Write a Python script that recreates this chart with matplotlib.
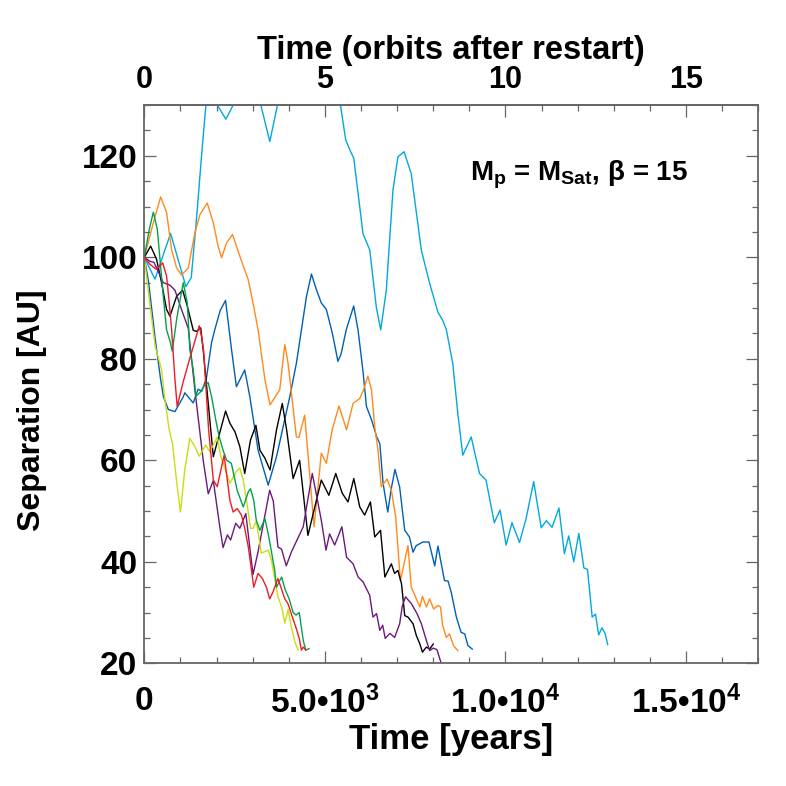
from matplotlib import pyplot as plt
from matplotlib.ticker import MultipleLocator

# time in years, separation in AU
cyan_t = [0, 295, 728, 1152, 1300, 1450, 1585, 1705, 1860, 2020, 2258, 2460, 2850, 3226, 3475, 3687,
          4500, 5430, 5577, 5700, 5800, 6056, 6240, 6425, 6545, 6700, 6885, 7023, 7190, 7390, 7667,
          7898, 8128, 8267, 8360, 8540, 8680, 8818, 9050, 9280, 9460, 9690, 9850, 10017, 10180, 10387,
          10570, 10780, 10990, 11130, 11290, 11480, 11630, 11750, 11890, 12030, 12170, 12270, 12400,
          12490, 12580, 12670, 12760, 12830]
cyan_r = [100, 95.7, 104.7, 94.2, 96.0, 108.0, 120.0, 130.0, 133.0, 130.0, 127.2, 130.0, 134.0, 130.0,
          122.8, 130.0, 140.0, 130.0, 123.1, 121.0, 119.5, 104.6, 101.5, 90.1, 85.7, 93.5, 113.3, 119.8,
          120.8, 116.5, 101.5, 94.9, 89.2, 87.5, 85.8, 79.1, 69.2, 61.0, 64.6, 57.4, 56.1, 47.7, 50.2,
          43.3, 47.7, 43.8, 48.5, 55.8, 46.7, 48.1, 46.8, 50.6, 41.6, 45.1, 40.0, 45.6, 38.8, 38.5, 29.1,
          29.7, 25.6, 27.0, 25.8, 23.7]

blue_t = [0, 120, 300, 450, 530, 665, 848, 1078, 1120, 1355, 1490, 1590, 1720, 1860, 1950, 2100, 2249,
          2415, 2550, 2780, 2920, 3150, 3430, 3660, 4030, 4210, 4350, 4490, 4627, 4765, 4900, 5040, 5180,
          5250, 5360, 5450, 5590, 5797, 5917, 6060, 6150, 6290, 6430, 6520, 6610, 6740, 6840, 6940, 7070,
          7210, 7340, 7440, 7530, 7715, 7880, 8040, 8130, 8310, 8410, 8500, 8640, 8770, 8870, 8960, 9080]
blue_r = [100, 95, 84, 76, 72.5, 70.0, 69.6, 72.5, 73.3, 71.3, 74.0, 73.6, 76.2, 83.1, 85.7, 89.5, 91.5,
          81.8, 74.5, 77.8, 72.6, 62.0, 55.1, 60.7, 72.6, 79.1, 85.7, 92.3, 96.7, 93.6, 91.0, 89.7, 85.8,
          83.5, 79.5, 81.0, 85.7, 90.4, 85.7, 77.2, 70.6, 68.0, 64.7, 63.3, 55.5, 49.8, 54.5, 58.2, 54.7,
          46.2, 44.9, 41.9, 43.2, 43.9, 43.9, 39.2, 43.1, 36.3, 36.2, 33.9, 29.1, 26.1, 25.8, 23.5, 22.8]

orange_t = [0, 250, 452, 617, 756, 894, 1030, 1217, 1400, 1540, 1742, 1910, 2046, 2140, 2276, 2440, 2645,
            2876, 3010, 3150, 3340, 3480, 3750, 3890, 3980, 4210, 4280, 4440, 4700, 4900, 5040, 5200,
            5390, 5600, 5780, 5965, 6070, 6190, 6290, 6380, 6470, 6560, 6720, 6840, 6960, 7090, 7300,
            7390, 7530, 7630, 7700, 7810, 7900, 8010, 8130, 8200, 8260, 8360, 8450, 8560, 8680]
orange_r = [100, 106.8, 111.9, 108.8, 101.5, 97.9, 96.5, 97.9, 104.8, 108.4, 110.7, 106.8, 102.1, 99.9,
            102.8, 104.5, 100.2, 95.6, 91.0, 85.7, 75.9, 70.9, 73.9, 82.8, 79.1, 64.6, 64.5, 68.9, 46.9,
            61.4, 59.4, 66.0, 70.7, 66.0, 71.2, 72.2, 73.9, 76.6, 73.9, 66.6, 62.0, 54.8, 56.3, 54.1,
            48.8, 36.3, 43.2, 35.0, 32.7, 31.1, 33.2, 31.1, 32.7, 30.7, 31.4, 31.1, 27.5, 25.1, 25.8,
            23.5, 22.5]

black_t = [0, 175, 340, 480, 617, 710, 894, 1060, 1190, 1355, 1447, 1560, 1630, 1910, 2250, 2370, 2510,
           2645, 2780, 2940, 3090, 3200, 3340, 3480, 3660, 3820, 3940, 4120, 4300, 4530, 4900, 5110,
           5300, 5480, 5640, 5800, 5965, 6100, 6260, 6380, 6540, 6660, 6840, 6930, 7020, 7120, 7210,
           7300, 7440, 7530, 7630, 7700, 7810, 7900, 8000]
black_r = [100, 102.2, 99.6, 94.9, 89.7, 88.4, 92.3, 93.5, 90.4, 85.6, 85.4, 86.1, 81.8, 60.7, 69.7,
           67.3, 65.6, 62.7, 57.4, 64.0, 66.9, 62.0, 60.4, 58.1, 66.0, 71.2, 66.0, 56.4, 60.0, 45.2,
           56.1, 53.1, 57.4, 53.5, 51.8, 56.4, 50.8, 49.2, 51.8, 44.9, 46.2, 37.0, 39.6, 37.7, 38.3,
           35.7, 29.4, 29.1, 27.8, 25.5, 23.8, 22.2, 23.2, 22.8, 23.8]

purple_t = [0, 157, 267, 387, 525, 710, 850, 1030, 1217, 1400, 1630, 1770, 1910, 2090, 2180, 2300, 2390,
            2530, 2645, 2810, 3010, 3150, 3470, 3570, 3700, 3800, 3930, 4070, 4400, 4530, 4650, 4760,
            4900, 5030, 5130, 5270, 5470, 5600, 5780, 5920, 6060, 6240, 6330, 6430, 6520, 6600, 6670,
            6800, 6930, 7070, 7140, 7230, 7390, 7550, 7670, 7810, 7900, 8000, 8100, 8220]
purple_r = [100, 99.2, 99.0, 97.2, 95.0, 94.5, 93.5, 89.7, 86.0, 73.9, 60.0, 53.4, 56.0, 46.9, 42.8,
            45.3, 44.3, 47.6, 46.6, 49.5, 37.5, 42.0, 54.1, 52.0, 42.9, 42.5, 39.2, 41.9, 46.9, 52.4,
            57.4, 53.4, 48.2, 42.3, 45.5, 43.3, 46.9, 40.9, 39.6, 37.0, 36.0, 33.4, 29.1, 29.8, 26.5,
            27.5, 24.9, 25.9, 25.1, 27.8, 31.2, 33.1, 31.8, 29.8, 27.8, 24.5, 22.5, 23.0, 22.7, 20.0]

red_t = [0, 157, 340, 507, 617, 690, 756, 850, 910, 1078, 1220, 1450, 1520, 1585, 1640, 1780, 1910, 2020,
         2120, 2210, 2300, 2370, 2460, 2570, 2690, 2780, 2880, 3030, 3150, 3270, 3380, 3470, 3560, 3700,
         3890, 3980, 4100, 4210, 4290, 4350, 4400, 4470]
red_r = [100, 98.6, 97.6, 98.9, 96.3, 91.0, 85.7, 75.8, 70.6, 75.5, 79.1, 84.7, 86.5, 84.4, 81.8, 66.0,
         56.1, 54.8, 58.1, 61.0, 56.0, 52.1, 49.8, 50.5, 49.2, 46.6, 42.9, 35.0, 37.7, 36.7, 35.0, 32.7,
         34.0, 36.7, 32.7, 31.7, 29.1, 26.8, 24.9, 22.6, 23.2, 22.6]

green_t = [0, 138, 250, 360, 525, 617, 710, 774, 900, 1078, 1190, 1260, 1355, 1430, 1560, 1680, 1770,
           1860, 1980, 2070, 2180, 2280, 2410, 2570, 2740, 2880, 2940, 3030, 3100, 3200, 3340, 3430,
           3520, 3610, 3660, 3800, 3900, 4010, 4120, 4200, 4290, 4400, 4470, 4560]
green_r = [100, 105.5, 108.9, 105.5, 92.3, 85.7, 83.5, 81.5, 88, 95.0, 91.0, 81.8, 77.8, 72.6, 73.5,
           74.9, 75.3, 72.6, 67.9, 64.7, 62.0, 60.0, 59.4, 54.1, 50.8, 53.8, 54.4, 52.1, 48.2, 46.2,
           48.5, 45.5, 42, 38.3, 35.0, 37.0, 34.5, 32.7, 30.0, 29.5, 30.0, 24.5, 22.6, 22.9]

yellow_t = [0, 150, 300, 480, 570, 690, 780, 890, 1000, 1120, 1260, 1400, 1520, 1700, 1810, 2020, 2120,
            2370, 2550, 2645, 2740, 2830, 2940, 3010, 3100, 3240, 3430, 3520, 3610, 3700, 3800, 3890,
            3980, 4070, 4170, 4260]
yellow_r = [100, 91, 82.5, 77.8, 71.9, 66.0, 63.3, 56.1, 49.8, 58.1, 64.3, 62.7, 60.8, 63.0, 61.7, 64.5,
            60.7, 55.5, 57.8, 58.5, 56.0, 52.1, 46.6, 46.6, 48, 41.7, 42.3, 40.3, 36.7, 33.1, 31.2, 27.9,
            30.6, 27.2, 24.2, 22.6]

series = [
    (cyan_t, cyan_r, '#00a9dc'),
    (blue_t, blue_r, '#0060b4'),
    (orange_t, orange_r, '#ff8a1c'),
    (black_t, black_r, '#000000'),
    (purple_t, purple_r, '#6a1a7c'),
    (yellow_t, yellow_r, '#ccdc10'),
    (green_t, green_r, '#00a34c'),
    (red_t, red_r, '#ee1c25'),
]

bottom_ticks = [0, 5000, 10000, 15000]
bottom_labels = ['0', '5.0•10$^\\mathbf{3}$', '1.0•10$^\\mathbf{4}$', '1.5•10$^\\mathbf{4}$']
top_ticks = [0, 5, 10, 15]

plt.rcParams['font.family'] = ['Liberation Sans', 'DejaVu Sans']
plt.rcParams['font.weight'] = 'bold'
plt.rcParams['mathtext.fontset'] = 'custom'
plt.rcParams['mathtext.rm'] = 'Liberation Sans:bold'
plt.rcParams['mathtext.bf'] = 'Liberation Sans:bold'
plt.rcParams['mathtext.it'] = 'Liberation Sans:bold'

axcol = '#666666'

fig = plt.figure(figsize=(7.86, 7.86), dpi=100)
ax = fig.add_axes([0.1836, 0.1561, 0.7812, 0.7103])

for t, r, c in series:
    ax.plot(t, r, color=c, lw=1.0)

ax.set_xlim(0, 17000)
ax.set_ylim(20, 130)
ax.set_xticks(bottom_ticks)
ax.set_xticklabels(bottom_labels)
ax.xaxis.set_minor_locator(MultipleLocator(1000))
ax.set_yticks([20, 40, 60, 80, 100, 120])
ax.yaxis.set_minor_locator(MultipleLocator(5))

for s in ax.spines.values():
    s.set_color(axcol)
    s.set_linewidth(1.3)

ax.tick_params(which='both', direction='in', color=axcol, width=0.9, right=True, top=False)
ax.tick_params(which='major', length=8.5)
ax.tick_params(which='minor', length=4.3)
ax.tick_params(axis='x', which='major', labelsize=24, pad=16)
ax.tick_params(axis='y', which='major', labelsize=24, pad=5)

ax.set_xlabel('Time [years]', fontsize=25, fontweight='bold', va='baseline')
ax.xaxis.set_label_coords(0.5, -0.153)
ax.set_ylabel('Separation [AU]', fontsize=23, fontweight='bold', va='center')
ax.yaxis.set_label_coords(-0.183, 0.454)

top = ax.secondary_xaxis('top', functions=(lambda x: x / 1000.0, lambda x: x * 1000.0))
top.set_xticks(top_ticks)
top.xaxis.set_minor_locator(MultipleLocator(1))
top.tick_params(which='both', direction='in', color=axcol, width=0.9)
top.tick_params(which='major', length=8.5, labelsize=22, pad=7)
top.tick_params(which='minor', length=4.3)
top.spines['top'].set_color(axcol)
top.spines['top'].set_linewidth(1.3)

fig.text(0.574, 1 - 59 / 786, 'Time (orbits after restart)', fontsize=23.5, fontweight='bold',
         ha='center', va='baseline')

ax.text(9005, 115.2, 'M$_\\mathbf{p}$ = M$_\\mathbf{Sat}$, β = 15', fontsize=20, fontweight='bold',
        ha='left', va='baseline')

fig.savefig('out.png', dpi=100)
